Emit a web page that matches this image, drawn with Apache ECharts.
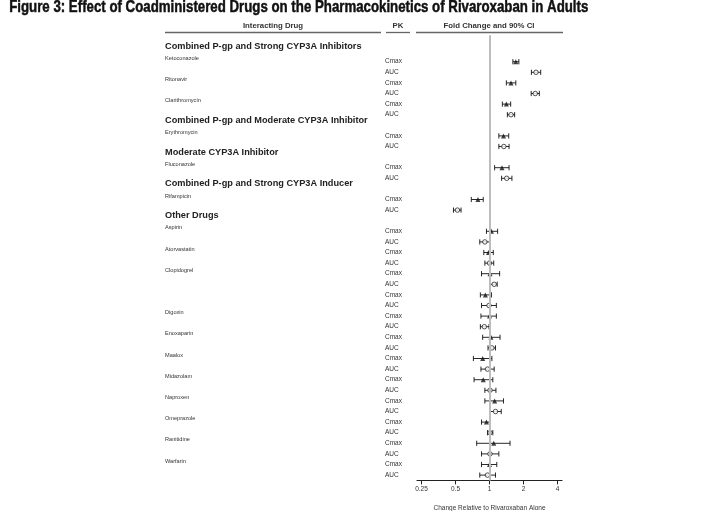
<!DOCTYPE html>
<html>
<head>
<meta charset="utf-8">
<script src="https://cdn.jsdelivr.net/npm/echarts@6/dist/echarts.min.js"></script>
<style>
  html, body { margin: 0; padding: 0; background: #fff; }
  #chart { width: 711px; height: 511px; }
</style>
</head>
<body>
<div id="chart"></div>
<script>
// Interaction groups, in display order
const groupNames = [
  'Combined P-gp and Strong CYP3A Inhibitors',
  'Combined P-gp and Moderate CYP3A Inhibitor',
  'Moderate CYP3A Inhibitor',
  'Combined P-gp and Strong CYP3A Inducer',
  'Other Drugs'
];

// Coadministered drugs (the second Clopidogrel study has no name of its own)
const drugNames = [
  'Ketoconazole', 'Ritonavir', 'Clarithromycin',
  'Erythromycin',
  'Fluconazole',
  'Rifampicin',
  'Aspirin', 'Atorvastatin', 'Clopidogrel', '', 'Digoxin', 'Enoxaparin',
  'Maalox', 'Midazolam', 'Naproxen', 'Omeprazole', 'Ranitidine', 'Warfarin'
];
const drugGroup = [0, 0, 0, 1, 2, 3, 4, 4, 4, 4, 4, 4, 4, 4, 4, 4, 4, 4];

const pkLabels = ['Cmax', 'AUC'];

// Fold change (point estimate) and 90% CI bounds
const cmaxEst  = [1.71, 1.55, 1.41, 1.33, 1.29, 0.79, 1.04, 0.98, 1.01, 0.92, 1.00, 1.03, 0.87, 0.88, 1.11, 0.94, 1.09, 1.00];
const cmaxLow  = [1.61, 1.41, 1.30, 1.21, 1.11, 0.69, 0.94, 0.89, 0.85, 0.83, 0.84, 0.87, 0.72, 0.73, 0.91, 0.85, 0.77, 0.85];
const cmaxHigh = [1.82, 1.71, 1.54, 1.48, 1.49, 0.88, 1.18, 1.08, 1.23, 1.04, 1.15, 1.24, 1.05, 1.07, 1.33, 1.01, 1.52, 1.16];
const aucEst   = [2.58, 2.54, 1.55, 1.34, 1.42, 0.52, 0.91, 1.00, 1.10, 0.99, 0.90, 1.05, 0.96, 1.01, 1.13, 1.01, 1.01, 0.96];
const aucLow   = [2.35, 2.34, 1.44, 1.21, 1.28, 0.48, 0.82, 0.91, 1.02, 0.85, 0.83, 0.97, 0.84, 0.91, 1.01, 0.96, 0.85, 0.82];
const aucHigh  = [2.84, 2.76, 1.67, 1.49, 1.58, 0.56, 1.02, 1.09, 1.17, 1.15, 0.99, 1.13, 1.10, 1.14, 1.27, 1.07, 1.21, 1.13];

const xTickValues = [0.25, 0.5, 1, 2, 4];

const titleText = 'Figure 3: Effect of Coadministered Drugs on the Pharmacokinetics of Rivaroxaban in Adults';
const colHeaders = ['Interacting Drug', 'PK', 'Fold Change and 90% CI'];
const xAxisTitle = 'Change Relative to Rivaroxaban Alone';

// ---- Build the row layout: a spacer row, then each group header and its PK rows ----
const rows = [{ kind: 'blank' }];
let currentGroup = -1;
drugNames.forEach((name, i) => {
  if (drugGroup[i] !== currentGroup) {
    currentGroup = drugGroup[i];
    rows.push({ kind: 'group', text: groupNames[currentGroup] });
  }
  rows.push({ kind: 'pk', drug: name, pk: 0, i });
  rows.push({ kind: 'pk', drug: '', pk: 1, i });
});
const rowIds = rows.map((r, k) => 'r' + k);

const cmaxPoints = [], aucPoints = [], cmaxBars = [], aucBars = [];
rows.forEach((r, k) => {
  if (r.kind !== 'pk') return;
  if (r.pk === 0) {
    cmaxPoints.push([cmaxEst[r.i], rowIds[k]]);
    cmaxBars.push([cmaxLow[r.i], cmaxHigh[r.i], rowIds[k]]);
  } else {
    aucPoints.push([aucEst[r.i], rowIds[k]]);
    aucBars.push([aucLow[r.i], aucHigh[r.i], rowIds[k]]);
  }
});

const FONT = '"Liberation Sans", Arial, sans-serif';
const ROW_H = 10.6;
const GRID_TOP = 35.2;
const GRID_H = ROW_H * rows.length;

function errorBar(params, api) {
  const lo = api.coord([api.value(0), api.value(2)]);
  const hi = api.coord([api.value(1), api.value(2)]);
  const cap = 2.6;
  const st = { stroke: '#111', lineWidth: 0.9 };
  return {
    type: 'group',
    children: [
      { type: 'line', shape: { x1: lo[0], y1: lo[1], x2: hi[0], y2: hi[1] }, style: st },
      { type: 'line', shape: { x1: lo[0], y1: lo[1] - cap, x2: lo[0], y2: lo[1] + cap }, style: st },
      { type: 'line', shape: { x1: hi[0], y1: hi[1] - cap, x2: hi[0], y2: hi[1] + cap }, style: st }
    ]
  };
}

const chart = echarts.init(document.getElementById('chart'), null, { renderer: 'canvas' });

const option = {
  backgroundColor: '#fff',
  animation: false,
  textStyle: { fontFamily: FONT },
  grid: [
    { left: 417, width: 145, top: GRID_TOP, height: GRID_H, containLabel: false, outerBoundsMode: 'none' },
    { left: 421.5, width: 136, top: GRID_TOP, height: GRID_H, containLabel: false, outerBoundsMode: 'none' }
  ],
  xAxis: [
    {
      gridIndex: 0, type: 'log', logBase: 2, min: 0.2282, max: 4.382,
      axisLine: { show: true, lineStyle: { color: '#222', width: 1.2 } },
      axisTick: { show: false }, axisLabel: { show: false }, splitLine: { show: false }
    },
    {
      gridIndex: 1, type: 'log', logBase: 2, min: xTickValues[0], max: xTickValues[xTickValues.length - 1],
      axisLine: { show: false },
      axisTick: { show: true, length: 4, lineStyle: { color: '#222', width: 1 } },
      axisLabel: { show: true, fontSize: 6.5, color: '#333', margin: 5, fontFamily: FONT,
                   formatter: v => String(+v.toFixed(2)) },
      splitLine: { show: false },
      name: xAxisTitle, nameLocation: 'middle', nameGap: 24,
      nameTextStyle: { fontSize: 6.5, color: '#333', fontFamily: FONT }
    }
  ],
  yAxis: [
    {
      // drug and group names
      gridIndex: 0, type: 'category', inverse: true, data: rowIds,
      axisLine: { show: false }, axisTick: { show: false }, splitLine: { show: false },
      axisLabel: {
        show: true, interval: 0, align: 'left', margin: 252, verticalAlign: 'bottom',
        formatter: (v, idx) => {
          const r = rows[idx];
          if (r.kind === 'group') return '{g|' + r.text + '}';
          if (r.kind === 'pk' && r.drug) return '{d|' + r.drug + '}';
          return '';
        },
        rich: {
          g: { fontSize: 9.2, fontWeight: 'bold', color: '#222', lineHeight: 10, fontFamily: FONT },
          d: { fontSize: 5.6, color: '#333', lineHeight: 7, fontFamily: FONT }
        }
      }
    },
    {
      // PK parameter column
      gridIndex: 0, type: 'category', inverse: true, data: rowIds, position: 'left', offset: 0,
      axisLine: { show: false }, axisTick: { show: false }, splitLine: { show: false },
      axisLabel: {
        show: true, interval: 0, align: 'left', margin: 32, fontSize: 6.5, color: '#333', fontFamily: FONT,
        formatter: (v, idx) => rows[idx].kind === 'pk' ? pkLabels[rows[idx].pk] : ''
      }
    },
    {
      gridIndex: 1, type: 'category', inverse: true, data: rowIds, show: false
    }
  ],
  series: [
    {
      // no-effect reference line at fold change 1
      type: 'scatter', xAxisIndex: 1, yAxisIndex: 2, data: [], z: 1, silent: true,
      markLine: {
        silent: true, symbol: 'none', label: { show: false },
        lineStyle: { color: '#bdbdbd', width: 2, type: 'solid' },
        data: [{ xAxis: 1 }]
      }
    },
    {
      type: 'custom', xAxisIndex: 1, yAxisIndex: 2, z: 3, data: cmaxBars,
      encode: { x: [0, 1], y: 2 }, renderItem: errorBar
    },
    {
      type: 'custom', xAxisIndex: 1, yAxisIndex: 2, z: 3, data: aucBars,
      encode: { x: [0, 1], y: 2 }, renderItem: errorBar
    },
    {
      name: 'Cmax', type: 'scatter', xAxisIndex: 1, yAxisIndex: 2, z: 4, data: cmaxPoints,
      symbol: 'triangle', symbolSize: 5, itemStyle: { color: '#111' }
    },
    {
      name: 'AUC', type: 'scatter', xAxisIndex: 1, yAxisIndex: 2, z: 4, data: aucPoints,
      symbol: 'circle', symbolSize: 4.5, itemStyle: { color: '#fff', borderColor: '#111', borderWidth: 0.9 }
    }
  ],
  graphic: [
    {
      type: 'text', left: 9, top: -1, scaleX: 0.78, originX: 0,
      style: { text: titleText, font: 'bold 17px ' + FONT, fill: '#111', stroke: '#111', lineWidth: 0.5 }
    },
    { type: 'text', x: 273, y: 26, style: { text: colHeaders[0], font: 'bold 7.8px ' + FONT, fill: '#333', align: 'center', verticalAlign: 'middle' } },
    { type: 'text', x: 398, y: 26, style: { text: colHeaders[1], font: 'bold 7.8px ' + FONT, fill: '#333', align: 'center', verticalAlign: 'middle' } },
    { type: 'text', x: 489, y: 26, style: { text: colHeaders[2], font: 'bold 7.8px ' + FONT, fill: '#333', align: 'center', verticalAlign: 'middle' } },
    { type: 'line', shape: { x1: 165, y1: 32.5, x2: 381, y2: 32.5 }, style: { stroke: '#666', lineWidth: 1.3 } },
    { type: 'line', shape: { x1: 386, y1: 32.5, x2: 410, y2: 32.5 }, style: { stroke: '#666', lineWidth: 1.3 } },
    { type: 'line', shape: { x1: 416, y1: 32.5, x2: 563, y2: 32.5 }, style: { stroke: '#666', lineWidth: 1.3 } }
  ]
};

chart.setOption(option);
</script>
</body>
</html>
